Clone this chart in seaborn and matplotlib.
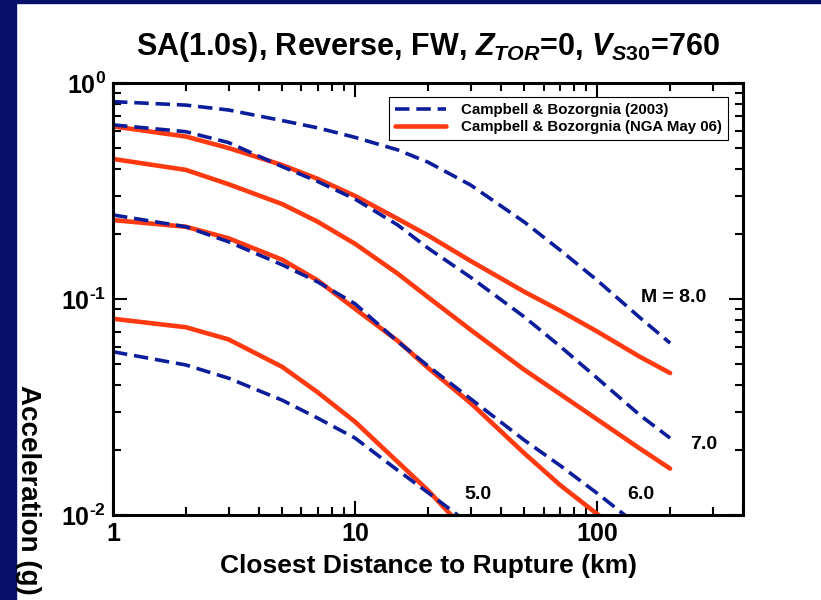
import matplotlib
matplotlib.use("Agg")
import matplotlib.pyplot as plt
import matplotlib.ticker as mticker
from matplotlib.lines import Line2D
from matplotlib.patches import Rectangle
import numpy as np
import pandas as pd
import seaborn as sns

# ---------------- data ----------------
distance_km = [1, 2, 3, 5, 7, 10, 15, 20, 30, 50, 70, 100, 150, 200]

cb03_m8 = [0.82, 0.79, 0.75, 0.67, 0.62, 0.56, 0.49, 0.43, 0.337, 0.227, 0.169, 0.122, 0.082, 0.0625]
cb03_m7 = [0.64, 0.595, 0.53, 0.41, 0.35, 0.29, 0.22, 0.172, 0.126, 0.0826, 0.0606, 0.043, 0.029, 0.0227]
cb03_m6 = [0.245, 0.216, 0.184, 0.144, 0.12, 0.095, 0.0635, 0.049, 0.0345, 0.0222, 0.017, 0.0126, 0.0088, 0.0066]
cb03_m5 = [0.057, 0.0495, 0.043, 0.034, 0.0281, 0.0227, 0.0161, 0.0127, 0.0090, 0.0051, 0.0035, 0.0022, 0.0013, 0.0009]

nga_m8 = [0.63, 0.565, 0.50, 0.417, 0.36, 0.30, 0.235, 0.197, 0.15, 0.108, 0.0885, 0.0707, 0.054, 0.0454]
nga_m7 = [0.445, 0.396, 0.34, 0.275, 0.228, 0.18, 0.131, 0.102, 0.072, 0.047, 0.0364, 0.0277, 0.0203, 0.0164]
nga_m6 = [0.232, 0.216, 0.191, 0.152, 0.122, 0.09, 0.064, 0.048, 0.033, 0.0193, 0.0138, 0.0101, 0.0070, 0.0054]
nga_m5 = [0.081, 0.074, 0.065, 0.0485, 0.037, 0.027, 0.0176, 0.013, 0.0080, 0.0047, 0.0033, 0.0023, 0.0015, 0.0011]

model_names = ["Campbell & Bozorgnia (2003)", "Campbell & Bozorgnia (NGA May 06)"]
magnitudes = [8.0, 7.0, 6.0, 5.0]
mag_labels = ["M = 8.0", "7.0", "6.0", "5.0"]
x_tick_labels = ["1", "10", "100"]
y_tick_labels = [r"$\mathbf{10^{\text{-}2}}$", r"$\mathbf{10^{\text{-}1}}$", r"$\mathbf{10^{0}}$"]

rows = []
for model, curves in [(model_names[0], [cb03_m8, cb03_m7, cb03_m6, cb03_m5]),
                      (model_names[1], [nga_m8, nga_m7, nga_m6, nga_m5])]:
    for mag, vals in zip(magnitudes, curves):
        for d, v in zip(distance_km, vals):
            rows.append({"model": model, "mag": mag, "distance": d, "accel": v})
df = pd.DataFrame(rows)

# ---------------- style ----------------
sns.set_style("ticks")
plt.rcParams["font.family"] = ["Liberation Sans", "DejaVu Sans"]
plt.rcParams["font.weight"] = "bold"
plt.rcParams["text.color"] = "black"
plt.rcParams["axes.labelcolor"] = "black"
plt.rcParams["xtick.color"] = "black"
plt.rcParams["ytick.color"] = "black"
plt.rcParams["mathtext.fontset"] = "custom"
plt.rcParams["mathtext.rm"] = "Liberation Sans:bold"
plt.rcParams["mathtext.bf"] = "Liberation Sans:bold"
plt.rcParams["mathtext.it"] = "Liberation Sans:bold:italic"

navy = "#06106a"
blue = "#0c1d9c"
red = "#ff3a10"

fig = plt.figure(figsize=(8.21, 6.0), dpi=100)
fig.patch.set_facecolor("white")
fig.add_artist(Rectangle((0, 0), 16 / 821, 1, transform=fig.transFigure, color=navy, zorder=0))
fig.add_artist(Rectangle((0, 1 - 3 / 600), 1, 3 / 600, transform=fig.transFigure, color=navy, zorder=0))

ax = fig.add_axes([113 / 821, 1 - 515 / 600, 630 / 821, 432 / 600])

blue_dash = (4.0, 1.9)
palette = {model_names[0]: blue, model_names[1]: red}
dashes = {model_names[0]: blue_dash, model_names[1]: ""}
sizes = {model_names[0]: 2.6, model_names[1]: 3.3}

# NGA first, then 2003 on top
for model in [model_names[1], model_names[0]]:
    sub = df[df["model"] == model]
    sns.lineplot(data=sub, x="distance", y="accel", hue="model", style="model",
                 size="model", units="mag", estimator=None, sort=False,
                 palette=palette, dashes=dashes, sizes=sizes, legend=False, ax=ax)

ax.set_xscale("log")
ax.set_yscale("log")
ax.set_xlim(1, 400)
ax.set_ylim(0.01, 1.0)

ax.xaxis.set_major_locator(mticker.FixedLocator([1, 10, 100]))
ax.xaxis.set_major_formatter(mticker.FixedFormatter(x_tick_labels))
ax.xaxis.set_minor_locator(mticker.LogLocator(base=10, subs=np.arange(2, 10), numticks=20))
ax.xaxis.set_minor_formatter(mticker.NullFormatter())
ax.yaxis.set_major_locator(mticker.FixedLocator([0.01, 0.1, 1.0]))
ax.yaxis.set_major_formatter(mticker.FixedFormatter(y_tick_labels))
ax.yaxis.set_minor_locator(mticker.LogLocator(base=10, subs=np.arange(2, 10), numticks=20))
ax.yaxis.set_minor_formatter(mticker.NullFormatter())

ax.tick_params(which="both", direction="in", top=True, right=True, colors="black", width=1.5)
ax.tick_params(which="major", length=10, labelsize=18, pad=5)
ax.tick_params(which="minor", length=6)
for lab in ax.get_xticklabels() + ax.get_yticklabels():
    lab.set_fontweight("bold")
for sp in ax.spines.values():
    sp.set_linewidth(2.2)
    sp.set_color("black")
    sp.set_visible(True)

ax.set_xlabel("Closest Distance to Rupture (km)", fontsize=19, fontweight="bold", labelpad=6)
ax.set_ylabel("")
fig.text(28 / 821, 1 - 490 / 600, "Acceleration (g)", rotation=-90, ha="center", va="center",
         fontsize=20, fontweight="bold")
ax.set_title(r"SA(1.0s), Reverse, FW, $\mathit{Z_{TOR}}$=0, $\mathit{V_{S30}}$=760",
             fontsize=22, fontweight="bold", pad=20)

label_pos = [(206, 0.102), (274, 0.0211), (152, 0.0125), (32.2, 0.0125)]
for txt, (xd, yd) in zip(mag_labels, label_pos):
    ax.text(xd, yd, txt, ha="center", va="center", fontsize=14, fontweight="bold")

handles = [Line2D([0], [0], color=blue, lw=2.6, dashes=blue_dash),
           Line2D([0], [0], color=red, lw=3.3)]
leg = ax.legend(handles, model_names, loc="upper right", bbox_to_anchor=(0.976, 0.968),
                borderaxespad=0, frameon=True, fancybox=False, framealpha=1,
                edgecolor="black", handlelength=3.4, prop={"weight": "bold", "size": 10.8},
                borderpad=0.4, labelspacing=0.2, handletextpad=1.0)
leg.get_frame().set_linewidth(0.8)

fig.savefig("out.png", dpi=100, facecolor="white")
